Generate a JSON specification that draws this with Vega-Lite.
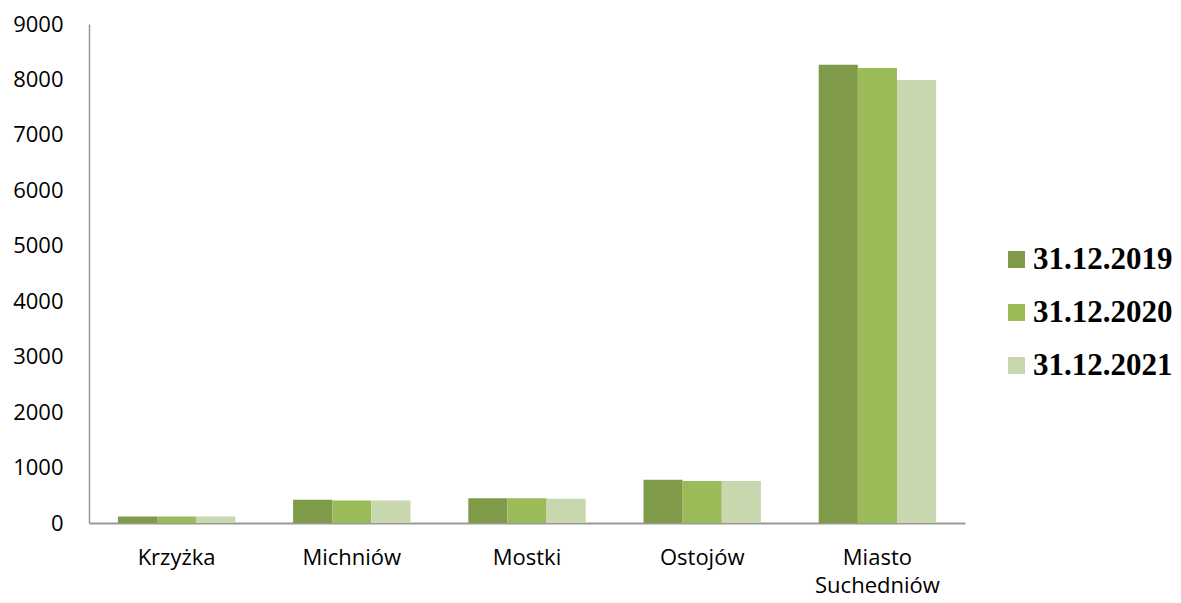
{
  "$schema": "https://vega.github.io/schema/vega-lite/v6.json",
  "autosize": {"type": "none"},
  "width": 876,
  "height": 499,
  "padding": {"left": 89, "top": 24, "right": 216, "bottom": 80},
  "background": "white",
  "data": {
    "values": [
      {"place": "Krzyżka", "date": "31.12.2019", "value": 115},
      {"place": "Krzyżka", "date": "31.12.2020", "value": 115},
      {"place": "Krzyżka", "date": "31.12.2021", "value": 115},
      {"place": "Michniów", "date": "31.12.2019", "value": 420},
      {"place": "Michniów", "date": "31.12.2020", "value": 405},
      {"place": "Michniów", "date": "31.12.2021", "value": 405},
      {"place": "Mostki", "date": "31.12.2019", "value": 448},
      {"place": "Mostki", "date": "31.12.2020", "value": 448},
      {"place": "Mostki", "date": "31.12.2021", "value": 437},
      {"place": "Ostojów", "date": "31.12.2019", "value": 781},
      {"place": "Ostojów", "date": "31.12.2020", "value": 758},
      {"place": "Ostojów", "date": "31.12.2021", "value": 758},
      {"place": "Miasto Suchedniów", "date": "31.12.2019", "value": 8267},
      {"place": "Miasto Suchedniów", "date": "31.12.2020", "value": 8207},
      {"place": "Miasto Suchedniów", "date": "31.12.2021", "value": 7990}
    ]
  },
  "mark": {"type": "bar"},
  "encoding": {
    "x": {
      "field": "place",
      "type": "nominal",
      "sort": null,
      "title": null,
      "scale": {"paddingInner": 0.33, "paddingOuter": 0.165},
      "axis": {
        "labelAngle": 0,
        "labelFont": "Open Sans",
        "labelFontSize": 22,
        "labelColor": "black",
        "labelPadding": 24,
        "labelLineHeight": 28,
        "ticks": false,
        "domainColor": "#999999",
        "domainWidth": 2,
        "labelExpr": "datum.label == 'Miasto Suchedniów' ? ['Miasto', 'Suchedniów'] : datum.label"
      }
    },
    "xOffset": {"field": "date", "type": "nominal"},
    "y": {
      "field": "value",
      "type": "quantitative",
      "title": null,
      "scale": {"domain": [0, 9000], "nice": false},
      "axis": {
        "values": [0, 1000, 2000, 3000, 4000, 5000, 6000, 7000, 8000, 9000],
        "grid": false,
        "ticks": false,
        "format": "d",
        "labelFont": "Open Sans",
        "labelFontSize": 22,
        "labelColor": "black",
        "labelPadding": 26,
        "domainColor": "#999999",
        "domainWidth": 1.5
      }
    },
    "color": {
      "field": "date",
      "type": "nominal",
      "scale": {
        "domain": ["31.12.2019", "31.12.2020", "31.12.2021"],
        "range": ["#7F9A48", "#9BBB59", "#C8D7AE"]
      },
      "legend": {
        "title": null,
        "orient": "none",
        "legendX": 912,
        "legendY": 220,
        "symbolType": "square",
        "symbolSize": 289,
        "symbolStrokeWidth": 0,
        "symbolOpacity": 1,
        "labelFont": "Liberation Serif",
        "labelFontSize": 31,
        "labelFontWeight": "bold",
        "labelColor": "black",
        "labelOffset": 1,
        "rowPadding": 21
      }
    }
  },
  "config": {"view": {"stroke": null}}
}
